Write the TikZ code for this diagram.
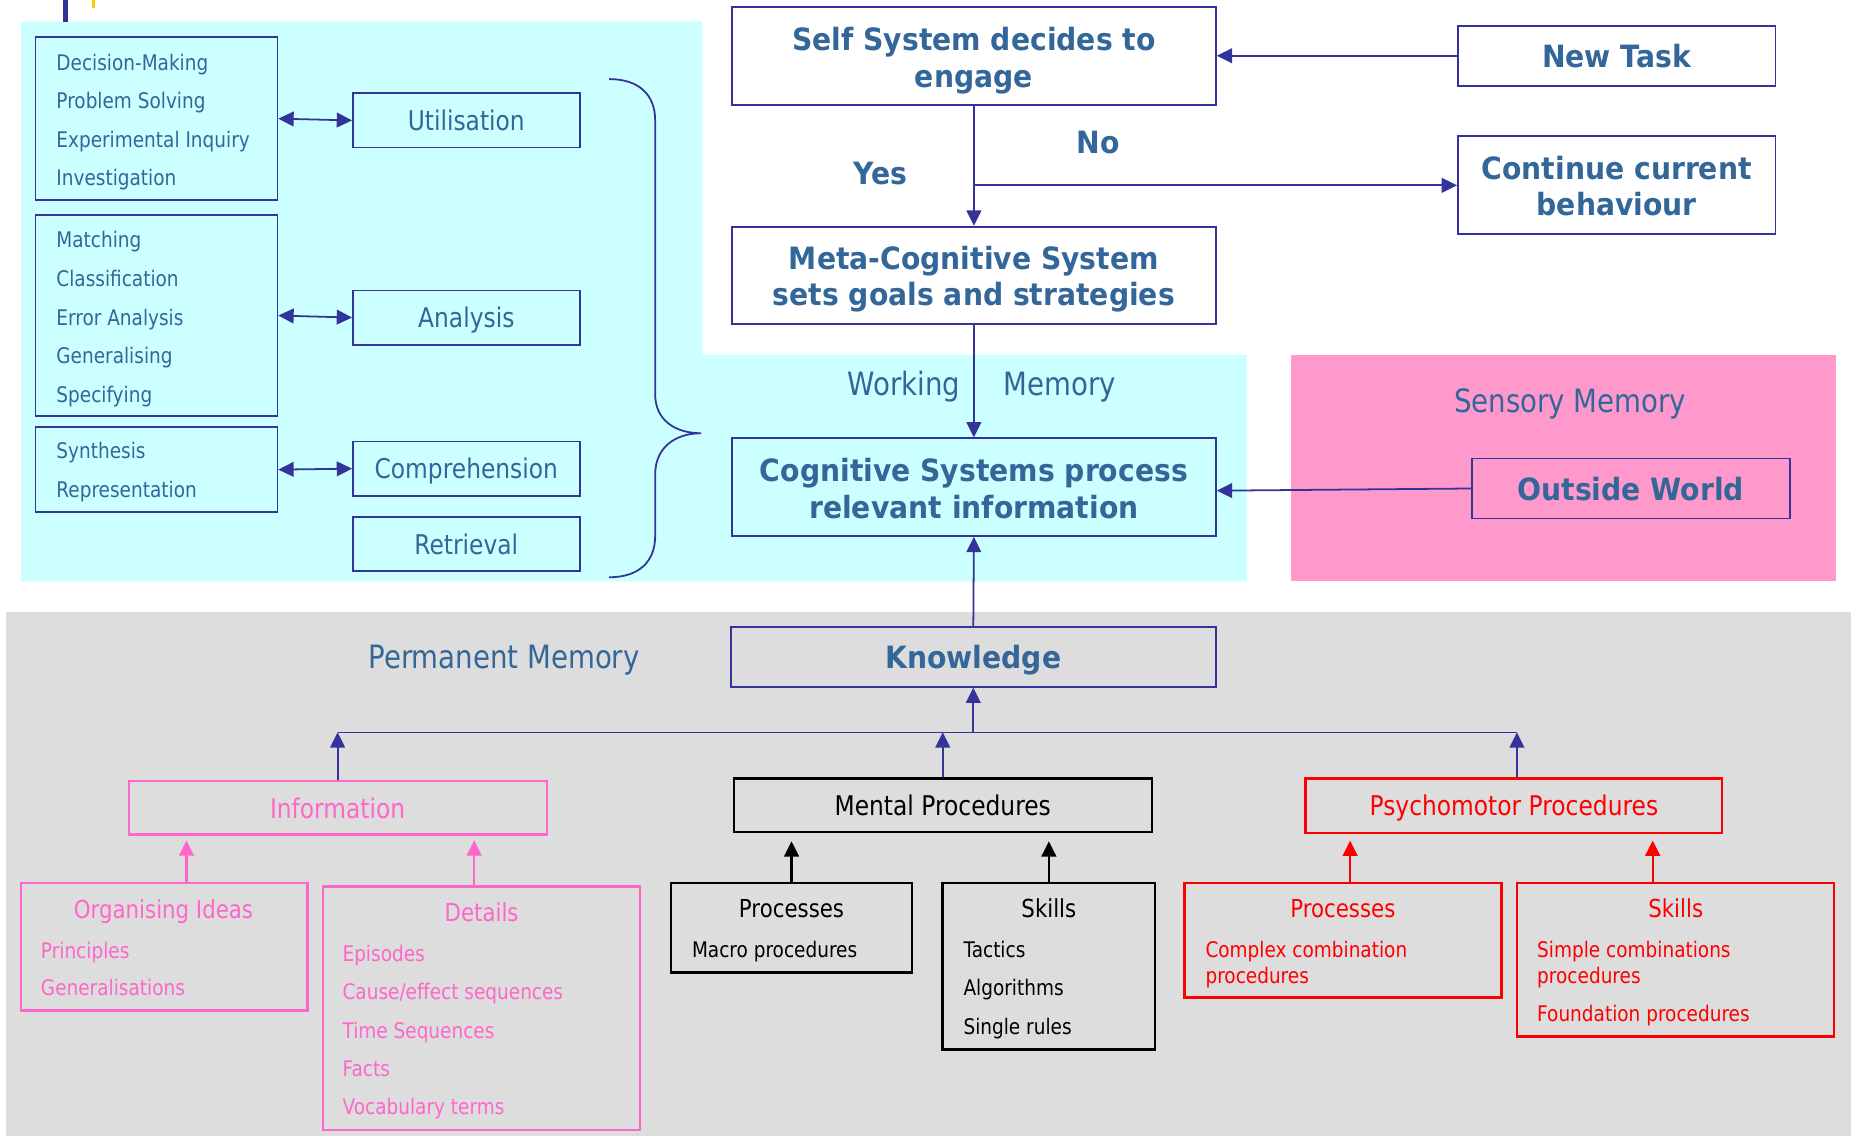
\documentclass[tikz,border=0pt]{standalone}
\usepackage{fontspec}
\setmainfont[FakeStretch=0.86]{DejaVu Sans}
\newfontfamily\boldfam[FakeStretch=0.92]{DejaVu Sans}
\usetikzlibrary{arrows.meta}
\definecolor{dblue}{RGB}{51,51,153}
\definecolor{tblue}{RGB}{51,102,153}
\definecolor{cyanbg}{RGB}{204,255,255}
\definecolor{pinkbg}{RGB}{255,153,204}
\definecolor{graybg}{RGB}{221,221,221}
\definecolor{pinkfg}{RGB}{255,102,204}
\definecolor{redfg}{RGB}{255,0,0}
\definecolor{yel}{RGB}{255,204,0}
\begin{document}
\begin{tikzpicture}[x=1pt,y=-1pt,
  bx/.style={inner sep=0pt,text height=10pt,text depth=0pt},
  bbox/.style={bx,draw=dblue,line width=1.5pt},
  kbox/.style={bx,draw=black,line width=2pt},
  rbox/.style={bx,draw=redfg,line width=2pt},
  pbox/.style={bx,draw=pinkfg,line width=1.8pt},
  hd/.style={font=\fontsize{26}{31}\selectfont\boldfam\bfseries,text=tblue},
  hdb/.style={hd,text height=19.6pt,text depth=0pt},
  ln/.style={inner sep=0pt,anchor=base},
  midb/.style={font=\fontsize{23}{27}\selectfont,text height=17.4pt,text depth=0pt},
  lst/.style={font=\fontsize{18.2}{22}\selectfont,inner sep=0pt,anchor=base west},
  ttl/.style={font=\fontsize{21}{25}\selectfont,inner sep=0pt,anchor=base},
  big/.style={font=\fontsize{27.2}{32}\selectfont,inner sep=0pt,anchor=base,text=tblue},
  tipA/.tip={Triangle[length=13pt,width=12.5pt]},
  conn/.style={draw=dblue,line width=1.5pt,-tipA},
  dconn/.style={draw=dblue,line width=1.5pt,tipA-tipA},
  kconn/.style={draw=black,line width=1.8pt,-tipA,shorten >=7pt},
  rconn/.style={draw=redfg,line width=1.8pt,-tipA,shorten >=5.5pt},
  pconn/.style={draw=pinkfg,line width=1.8pt,-tipA,shorten >=4pt},
]
\useasboundingbox (0,0) rectangle (1568,962);
% backgrounds
\fill[cyanbg] (18,18) -- (595,18) -- (595,300.7) -- (1056,300.7) -- (1056,492.5) -- (18,492.5) -- cycle;
\fill[pinkbg] (1094,300.7) rectangle (1555,492.5);
\fill[graybg] (5,518.5) rectangle (1568,962);
\fill[dblue] (53,0) rectangle (58,18.5);
\fill[yel] (78,0) rectangle (80.5,7);

% left lists
\node[bbox,minimum width=205pt,minimum height=138pt] (b1) at (132.5,100.5) {};
\node[lst,text=tblue] (b1a) at (47.6,59.3) {Decision-Making};
\node[lst,text=tblue] (b1b) at (47.6,92.3) {Problem Solving};
\node[lst,text=tblue] (b1c) at (47.6,124.7) {Experimental Inquiry};
\node[lst,text=tblue] (b1d) at (47.6,157.1) {Investigation};
\node[bbox,minimum width=205pt,minimum height=170.5pt] (b2) at (132.5,267.3) {};
\node[lst,text=tblue] (b2a) at (47.6,210) {Matching};
\node[lst,text=tblue] (b2b) at (47.6,242.4) {Classification};
\node[lst,text=tblue] (b2c) at (47.6,275.4) {Error Analysis};
\node[lst,text=tblue] (b2d) at (47.6,307.8) {Generalising};
\node[lst,text=tblue] (b2e) at (47.6,340.8) {Specifying};
\node[bbox,minimum width=205pt,minimum height=72.4pt] (b3) at (132.5,397.8) {};
\node[lst,text=tblue] (b3a) at (47.6,388.8) {Synthesis};
\node[lst,text=tblue] (b3b) at (47.6,421.8) {Representation};

\node[bbox,midb,text=tblue,minimum width=192pt,minimum height=46pt] (util) at (395,102) {Utilisation};
\node[bbox,midb,text=tblue,minimum width=192pt,minimum height=46pt] (ana) at (395,269) {Analysis};
\node[bbox,midb,text=tblue,minimum width=192pt,minimum height=46pt] (comp) at (395,397) {Comprehension};
\node[bbox,midb,text=tblue,minimum width=192pt,minimum height=46pt] (retr) at (395,461) {Retrieval};

\draw[dconn] (b1.east) -- (util.west);
\draw[dconn] (b2.east) -- (ana.west);
\draw[dconn] (b3.east) -- (comp.west);

% brace
\draw[dblue,line width=1.5pt] (516,67) .. controls (541,67) and (555,80) .. (555,102) -- (555,334)
  .. controls (555,356) and (572,367) .. (594,367)
  .. controls (572,367) and (555,379) .. (555,402) -- (555,454)
  .. controls (555,476) and (541,489) .. (516,489);

% central flow
\node[bbox,minimum width=410pt,minimum height=83pt] (self) at (825,47.7) {};
\node[hd,ln] (self1) at (825,42.9) {Self System decides to};
\node[hd,ln] (self2) at (825,74) {engage};
\node[bbox,hdb,minimum width=269pt,minimum height=51pt] (task) at (1369.5,47.2) {New Task};
\node[bbox,minimum width=269pt,minimum height=83pt] (cont) at (1369.5,156.5) {};
\node[hd,ln] (cont1) at (1369.5,151.7) {Continue current};
\node[hd,ln] (cont2) at (1369.5,182.8) {behaviour};
\node[hd,ln] (yes) at (745.5,155.9) {Yes};
\node[hd,ln] (no) at (930.5,129.9) {No};
\node[bbox,minimum width=410pt,minimum height=82.5pt] (meta) at (825,233.3) {};
\node[hd,ln] (meta1) at (825,228.2) {Meta-Cognitive System};
\node[hd,ln] (meta2) at (825,259.2) {sets goals and strategies};
\node[big] (wk) at (765.6,335.2) {Working};
\node[big] (wm) at (897.6,335.2) {Memory};
\node[bbox,minimum width=410pt,minimum height=82.7pt] (cog) at (825,412.65) {};
\node[hd,ln] (cog1) at (825,407.5) {Cognitive Systems process};
\node[hd,ln] (cog2) at (825,439.1) {relevant information};
\node[big] (sens) at (1330,349) {Sensory Memory};
\node[bbox,hdb,minimum width=269pt,minimum height=51pt] (out) at (1381.5,413.8) {Outside World};

\draw[conn] (task.west) -- (task.west -| self.east);
\draw[conn] (self.south) -- (meta.north);
\coordinate (yn) at (825,157);
\draw[conn] (yn) -- (yn -| cont.west);
\draw[conn] (meta.south) -- (cog.north);
\draw[conn] (out.west) -- ([yshift=-3pt]cog.east);

% permanent memory
\node[big] (perm) at (427,566.5) {Permanent Memory};
\node[bbox,hdb,minimum width=410.5pt,minimum height=50.7pt] (know) at (824.5,556.4) {Knowledge};
\draw[conn] (know.north) -- (cog.south);

\node[pbox,midb,text=pinkfg,minimum width=354pt,minimum height=45pt] (info) at (286,684.4) {Information};
\node[kbox,midb,minimum width=354pt,minimum height=45.2pt] (mental) at (798.6,682) {Mental Procedures};
\node[rbox,midb,text=redfg,minimum width=353pt,minimum height=46pt] (psy) at (1282.4,682.5) {Psychomotor Procedures};

\coordinate (busL) at (286,620.4);
\coordinate (busR) at (1285,620.4);
\draw[dblue,line width=1.5pt] (busL) -- (busR);
\draw[conn] (info.north) -- (info.north |- busL);
\draw[conn] (mental.north) -- (mental.north |- busL);
\draw[conn] (psy.north -| busR) -- (busR);
\draw[conn] (know.south |- busL) -- (know.south);

% information sub-boxes
\node[pbox,minimum width=243pt,minimum height=108pt] (org) at (139,802) {};
\node[ttl,text=pinkfg] (orgt) at (138.5,778.4) {Organising Ideas};
\node[lst,text=pinkfg] (orga) at (34.5,811.8) {Principles};
\node[lst,text=pinkfg] (orgb) at (34.5,842.9) {Generalisations};
\node[pbox,minimum width=268.6pt,minimum height=206pt] (det) at (407.7,854) {};
\node[ttl,text=pinkfg] (dett) at (408,780.6) {Details};
\node[lst,text=pinkfg] (deta) at (290,814.5) {Episodes};
\node[lst,text=pinkfg] (detb) at (290,846.5) {Cause/effect sequences};
\node[lst,text=pinkfg] (detc) at (290,879.5) {Time Sequences};
\node[lst,text=pinkfg] (detd) at (290,912) {Facts};
\node[lst,text=pinkfg] (dete) at (290,944.5) {Vocabulary terms};
\coordinate (pa) at ([xshift=19pt]org.north);
\coordinate (pb) at ([xshift=-6pt]det.north);
\draw[pconn] (pa) -- (pa |- info.south);
\draw[pconn] (pb) -- (pb |- info.south);

% mental sub-boxes
\node[kbox,minimum width=204pt,minimum height=75.7pt] (kp) at (670.5,785.9) {};
\node[ttl] (kpt) at (670.5,777.5) {Processes};
\node[lst] (kpa) at (586,811.5) {Macro procedures};
\node[kbox,minimum width=180pt,minimum height=141pt] (ks) at (888.5,818.5) {};
\node[ttl] (kst) at (888.5,777.5) {Skills};
\node[lst] (ksa) at (816,811.5) {Tactics};
\node[lst] (ksb) at (816,843.5) {Algorithms};
\node[lst] (ksc) at (816,876.5) {Single rules};
\draw[kconn] (kp.north) -- (kp.north |- mental.south);
\draw[kconn] (ks.north) -- (ks.north |- mental.south);

% psychomotor sub-boxes
\node[rbox,minimum width=268.6pt,minimum height=97pt] (rp) at (1137.7,796.5) {};
\node[ttl,text=redfg] (rpt) at (1137.5,777.5) {Processes};
\node[lst,text=redfg] (rpa) at (1021,811.5) {Complex combination};
\node[lst,text=redfg] (rpb) at (1021,833) {procedures};
\node[rbox,minimum width=268.6pt,minimum height=130pt] (rs) at (1419.3,813) {};
\node[ttl,text=redfg] (rst) at (1419.5,777.5) {Skills};
\node[lst,text=redfg] (rsa) at (1302,811.5) {Simple combinations};
\node[lst,text=redfg] (rsb) at (1302,833) {procedures};
\node[lst,text=redfg] (rsc) at (1302,865.5) {Foundation procedures};
\coordinate (ra) at ([xshift=6pt]rp.north);
\coordinate (rb) at ([xshift=-19.3pt]rs.north);
\draw[rconn] (ra) -- (ra |- psy.south);
\draw[rconn] (rb) -- (rb |- psy.south);
\end{tikzpicture}
\end{document}
